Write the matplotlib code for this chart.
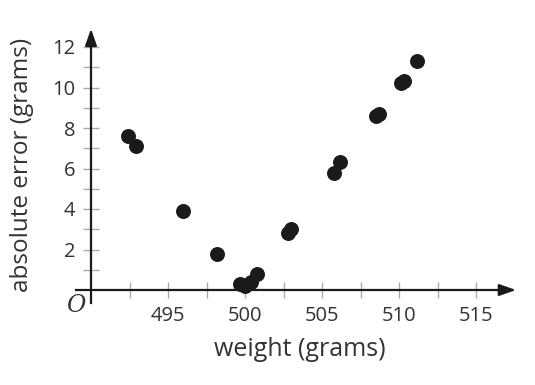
import numpy as np
import matplotlib.pyplot as plt

plt.rcParams['font.family'] = ['Open Sans', 'DejaVu Sans']

# weight (grams) vs absolute error (grams)
weight = [492.4, 492.9, 496.0, 498.2, 499.7, 500.0, 500.4, 500.8,
          502.8, 503.0, 505.8, 506.2, 508.5, 508.7, 510.1, 510.3, 511.2]
abs_error = [7.6, 7.1, 3.9, 1.8, 0.3, 0.2, 0.4, 0.8,
             2.8, 3.0, 5.8, 6.3, 8.6, 8.7, 10.2, 10.3, 11.3]

x_ticks = [492.5, 495, 497.5, 500, 502.5, 505, 507.5, 510, 512.5, 515]
x_labels = ['', '495', '', '500', '', '505', '', '510', '', '515']
y_ticks = list(range(1, 13))
y_labels = [str(v) if v % 2 == 0 else '' for v in y_ticks]

W, H = 535, 385
fig = plt.figure(figsize=(W / 100, H / 100), dpi=100)
ax = fig.add_axes([70 / W, (H - 310) / H, 455 / W, 290 / H])
ax.set_xlim(490 - 21 / 15.4, 490 + 434 / 15.4)
ax.set_ylim((290 - 310) / 20.25, (290 - 20) / 20.25)

for s in ['top', 'right']:
    ax.spines[s].set_visible(False)
ax.spines['left'].set_position(('data', 490))
ax.spines['bottom'].set_position(('data', 0))
ax.spines['left'].set_bounds(-0.65, 12.6)
ax.spines['bottom'].set_bounds(489.0, 517.0)
for s in ['left', 'bottom']:
    ax.spines[s].set_linewidth(1.6)
    ax.spines[s].set_color('#1a1a1a')

# arrow heads
ax.annotate('', xy=(517.6, 0), xytext=(516.5, 0),
            arrowprops=dict(arrowstyle='-|>,head_length=1.0,head_width=0.35',
                            color='#1a1a1a', lw=1.6, shrinkA=0, shrinkB=0))
ax.annotate('', xy=(490, 12.9), xytext=(490, 12.3),
            arrowprops=dict(arrowstyle='-|>,head_length=1.0,head_width=0.35',
                            color='#1a1a1a', lw=1.6, shrinkA=0, shrinkB=0))

ax.set_xticks(x_ticks)
ax.set_xticklabels(x_labels)
ax.set_yticks(y_ticks)
ax.set_yticklabels(y_labels)
ax.tick_params(direction='inout', length=11, width=1, color='#aaaaaa',
               labelsize=14.5, labelcolor='#333333', pad=6)

ax.scatter(weight, abs_error, s=95, color='#1a1a1a', zorder=5)

ax.text(489.0, -0.75, 'O', fontsize=17, fontstyle='italic', family='DejaVu Serif',
        color='#333333', ha='center', va='center')

fig.text(300 / W, 1 - 350 / H, 'weight (grams)', fontsize=18, color='#333333',
         ha='center', va='center')
fig.text(22 / W, 1 - 165 / H, 'absolute error (grams)', fontsize=17.5, color='#333333',
         ha='center', va='center', rotation=90)

fig.savefig('out.png', dpi=100)
